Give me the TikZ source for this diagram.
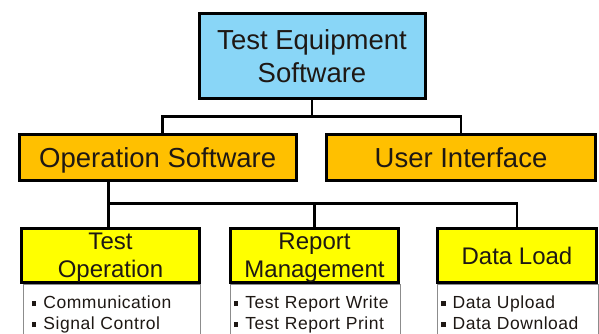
\documentclass[tikz,border=0pt]{standalone}
\usepackage{fontspec}
\setmainfont{Liberation Sans}
\newfontfamily\listfont[LetterSpace=3]{Liberation Sans}

\definecolor{topblue}{RGB}{137,214,247}
\definecolor{midorange}{RGB}{255,192,0}
\definecolor{lowyellow}{RGB}{255,255,0}
\definecolor{inkdark}{RGB}{30,24,20}

\tikzset{
  box/.style={draw=black, line width=3pt, inner sep=0pt, text=inkdark, align=center},
  topbox/.style={box, fill=topblue, minimum width=226pt, minimum height=85pt,
    font=\fontsize{27.5}{33}\selectfont},
  midbox/.style={box, fill=midorange, minimum height=46pt,
    font=\fontsize{27.5}{33}\selectfont, text depth=-2pt},
  hdrbox/.style={box, fill=lowyellow, minimum height=54pt,
    font=\fontsize{24}{28}\selectfont, text depth=-5pt},
  listbox/.style={draw=black!45, line width=0.8pt, fill=white, anchor=north west,
    inner xsep=4pt, inner ysep=11pt, align=left, text=inkdark,
    font=\listfont\fontsize{17.5}{21}\selectfont},
  conn/.style={draw=black, line width=2.6pt},
}
\newcommand{\sqbul}{\rule[2pt]{4.5pt}{5.5pt}\hspace{7pt}}

\begin{document}
\begin{tikzpicture}[x=1pt, y=-1pt]
  \useasboundingbox (0,0) rectangle (599,334);

  % top of the tree
  \node[topbox] (tes) at (312,56) {Test Equipment\\Software};

  % second level
  \node[midbox, minimum width=277pt] (ops) at (157.7,157.7) {Operation Software};
  \node[midbox, minimum width=269pt] (ui) at (461,157.5) {User Interface};

  % lists under the third level (drawn first, headers go over them)
  \node[listbox, text width=159pt, inner xsep=9pt] (testoplist) at (22.5,284)
    {\sqbul Communication\\\sqbul Signal Control};
  \node[listbox, text width=162.5pt] (reportlist) at (229.5,284)
    {\sqbul Test Report Write\\\sqbul Test Report Print};
  \node[listbox, text width=153pt] (dataloadlist) at (436.7,284)
    {\sqbul Data Upload\\\sqbul Data Download};

  % third level
  \node[hdrbox, minimum width=178pt] (testop) at (110.5,255.5) {Test\\Operation};
  \node[hdrbox, minimum width=168pt] (report) at (314.5,255.5) {Report\\Management};
  \node[hdrbox, minimum width=159pt] (dataload) at (517,255.5) {Data Load};

  % connectors
  \coordinate (upbus) at (0,116.5);
  \coordinate (lowbus) at (0,203.3);
  \coordinate (opsdrop) at ([xshift=-49.4pt]ops.south);
  \draw[conn] (tes.south) -- (tes.south |- upbus);
  \draw[conn] ([xshift=4.8pt]ops.north) |- (ui.north |- upbus) -- (ui.north);
  \draw[conn] (opsdrop) -- (opsdrop |- testop.north);
  \draw[conn] (opsdrop |- lowbus) -| (dataload.north);
  \draw[conn] (report.north |- lowbus) -- (report.north);
\end{tikzpicture}
\end{document}
